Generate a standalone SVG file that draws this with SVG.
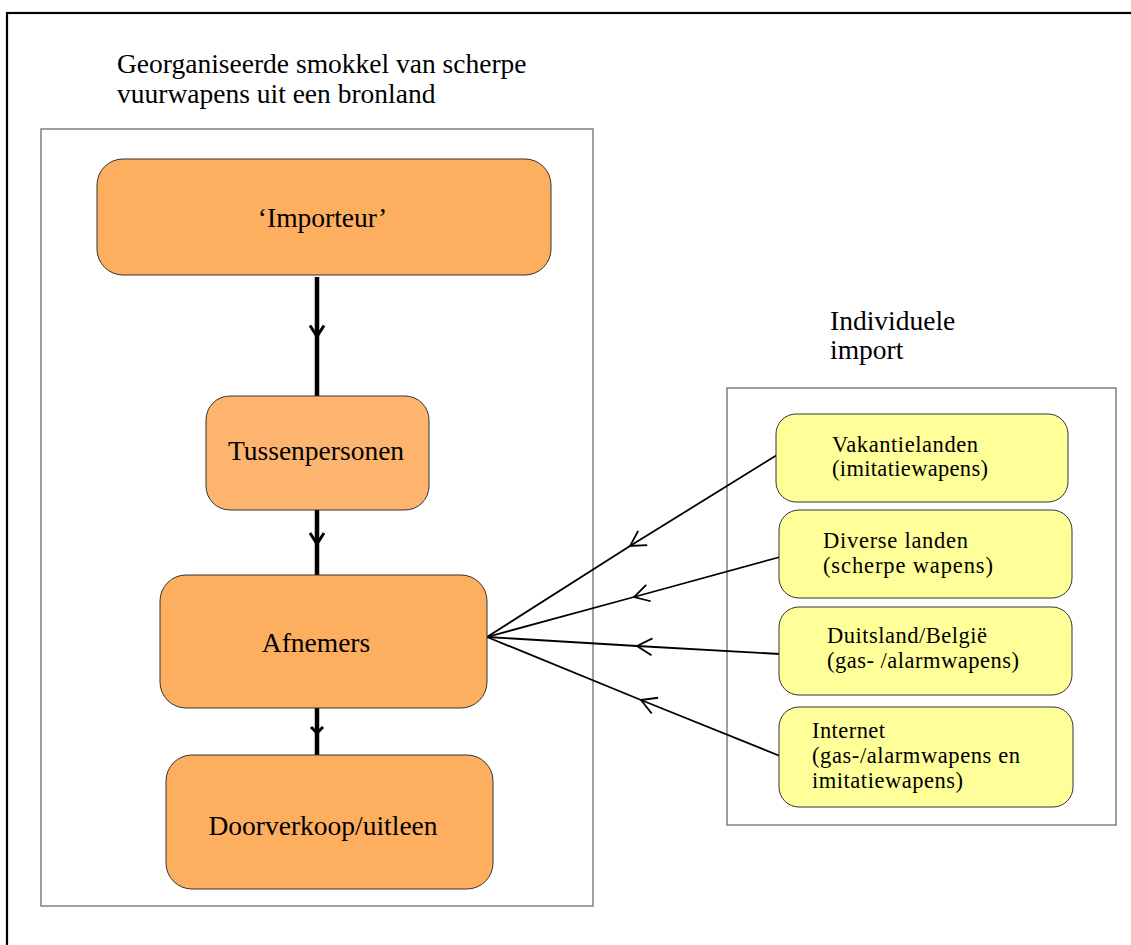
<svg xmlns="http://www.w3.org/2000/svg" width="1131" height="945" viewBox="0 0 1131 945">
<style>
.t{font-family:"Liberation Serif","Times New Roman",serif;fill:#000}
.big{font-size:27.5px}
.small{font-size:22.5px}
.or{fill:#FDAE5F;stroke:#333;stroke-width:1}
.or2{fill:#FDB46E;stroke:#333;stroke-width:1}
.ye{fill:#FFFF99;stroke:#333;stroke-width:1}
.frame{fill:none;stroke:#808080;stroke-width:1.5}
.thick{fill:none;stroke:#000;stroke-width:4.5}
.thin{fill:none;stroke:#000;stroke-width:1.8}
</style>
<defs>
<marker id="mThick" markerUnits="userSpaceOnUse" viewBox="-14 -9 16 18" refX="0" refY="0" markerWidth="16" markerHeight="18" orient="auto">
<path d="M-11,-7 L0,0 L-11,7" fill="none" stroke="#000" stroke-width="3"/>
</marker>
<marker id="mThickS" markerUnits="userSpaceOnUse" viewBox="-10 -8 12 16" refX="0" refY="0" markerWidth="12" markerHeight="16" orient="auto">
<path d="M-6,-6 L0,0 L-6,6" fill="none" stroke="#000" stroke-width="3"/>
</marker>
<marker id="mThin" markerUnits="userSpaceOnUse" viewBox="-18 -11 20 22" refX="0" refY="0" markerWidth="20" markerHeight="22" orient="auto">
<path d="M-15,-8.5 L0,0 L-15,8.5" fill="none" stroke="#000" stroke-width="1.8"/>
</marker>
</defs>
<rect x="0" y="0" width="1131" height="945" fill="#fff"/>
<rect x="7" y="13" width="1140" height="950" fill="none" stroke="#000" stroke-width="2.2"/>
<text class="t big" x="117" y="73">Georganiseerde smokkel van scherpe</text>
<text class="t big" x="117" y="103">vuurwapens uit een bronland</text>
<text class="t big" x="830" y="330">Individuele</text>
<text class="t big" x="830" y="359">import</text>
<rect class="frame" x="41" y="129" width="552" height="777"/>
<rect class="frame" x="727" y="388" width="389" height="437"/>
<g id="connectors">
<path class="thick" d="M317,277 L317,336.5 L317,396" marker-mid="url(#mThick)"/>
<path class="thick" d="M317,510 L317,544 L317,575" marker-mid="url(#mThick)"/>
<path class="thick" d="M317,708 L317,733 L317,755" marker-mid="url(#mThickS)"/>
<path class="thin" d="M777,455 L630,546 L487,637" marker-mid="url(#mThin)"/>
<path class="thin" d="M780,557 L634,597 L487,637" marker-mid="url(#mThin)"/>
<path class="thin" d="M780,654 L637,646 L487,637" marker-mid="url(#mThin)"/>
<path class="thin" d="M780,756 L641,700 L487,637" marker-mid="url(#mThin)"/>
</g>
<g id="importeur">
<rect class="or" x="97" y="159" width="454" height="116" rx="26" ry="26"/>
<text class="t big" x="322.5" y="227" text-anchor="middle">‘Importeur’</text>
</g>
<g id="tussenpersonen">
<rect class="or2" x="206" y="396" width="223" height="114" rx="24" ry="24"/>
<text class="t big" x="316" y="460" text-anchor="middle">Tussenpersonen</text>
</g>
<g id="afnemers">
<rect class="or" x="160" y="575" width="327" height="133" rx="26" ry="26"/>
<text class="t big" x="316" y="652" text-anchor="middle">Afnemers</text>
</g>
<g id="doorverkoop">
<rect class="or" x="166" y="755" width="327" height="134" rx="26" ry="26"/>
<text class="t big" x="323" y="835" text-anchor="middle">Doorverkoop/uitleen</text>
</g>
<g id="vakantielanden">
<rect class="ye" x="776" y="414" width="292" height="88" rx="20" ry="20"/>
<text class="t small" x="832" y="452" textLength="146">Vakantielanden</text>
<text class="t small" x="832" y="476" textLength="156">(imitatiewapens)</text>
</g>
<g id="diverse">
<rect class="ye" x="779" y="510" width="293" height="88" rx="20" ry="20"/>
<text class="t small" x="823" y="548" textLength="145">Diverse landen</text>
<text class="t small" x="823" y="573" textLength="170">(scherpe wapens)</text>
</g>
<g id="duitsland">
<rect class="ye" x="779" y="607" width="293" height="88" rx="20" ry="20"/>
<text class="t small" x="827" y="643" textLength="160">Duitsland/België</text>
<text class="t small" x="827" y="668" textLength="192">(gas- /alarmwapens)</text>
</g>
<g id="internet">
<rect class="ye" x="779" y="707" width="294" height="100" rx="20" ry="20"/>
<text class="t small" x="812" y="738" textLength="73">Internet</text>
<text class="t small" x="812" y="763" textLength="208">(gas-/alarmwapens en</text>
<text class="t small" x="812" y="788" textLength="151">imitatiewapens)</text>
</g>
</svg>
